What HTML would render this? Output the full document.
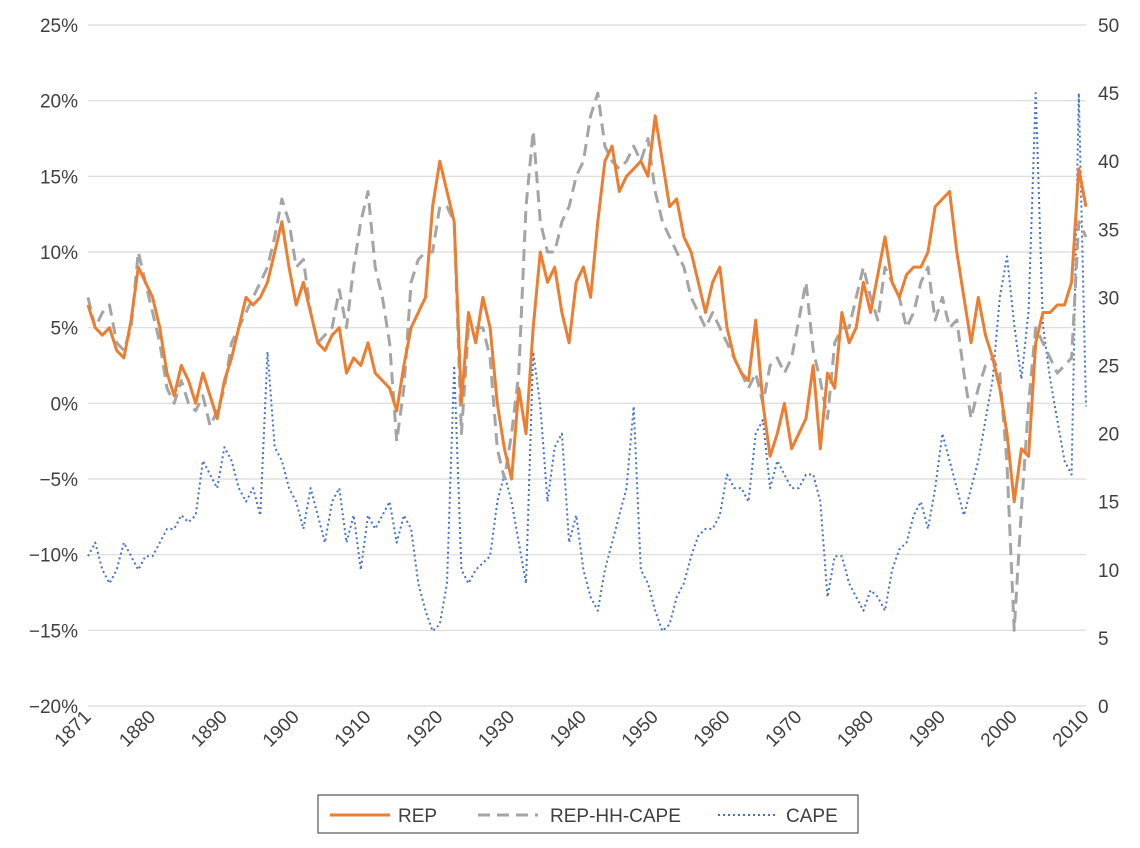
<!DOCTYPE html>
<html><head><meta charset="utf-8"><style>
body{margin:0;background:#fff;}
svg text{font-family:"Liberation Sans",sans-serif;fill:#404040;}
</style></head><body>
<svg id="chart" width="1140" height="843" viewBox="0 0 1140 843" xmlns="http://www.w3.org/2000/svg">
<g id="grid"></g>
<g id="yl"></g>
<g id="yr"></g>
<g id="xl"></g>
<g id="series"></g>
<g>
<rect x="318" y="795" width="540" height="38" fill="#fff" stroke="#555" stroke-width="1.2"/>
<line x1="330" y1="815" x2="390" y2="815" stroke="#ED7D31" stroke-width="3"/>
<text x="398" y="822" font-size="19">REP</text>
<line x1="478" y1="815" x2="538" y2="815" stroke="#A5A5A5" stroke-width="3" stroke-dasharray="12,7"/>
<text x="550" y="822" font-size="19">REP-HH-CAPE</text>
<line x1="718" y1="815" x2="775" y2="815" stroke="#4472C4" stroke-width="2" stroke-dasharray="2,3"/>
<text x="786" y="822" font-size="19">CAPE</text>
</g>
</svg>
<script>
const years=[];for(let y=1871;y<=2010;y++)years.push(y);
const repValues=[6.5,5,4.5,5,3.5,3,5.5,9,8,7,5,2,0.5,2.5,1.5,0,2,0.5,-1,1.5,3,5,7,6.5,7,8,10,12,9,6.5,8,6,4,3.5,4.5,5,2,3,2.5,4,2,1.5,1,-0.5,2.5,5,6,7,13,16,14,12,0,6,4,7,5,0,-3,-5,1,-2,5,10,8,9,6,4,8,9,7,12,16,17,14,15,15.5,16,15,19,16,13,13.5,11,10,8,6,8,9,5,3,2,1.5,5.5,0,-3.5,-2,0,-3,-2,-1,2.5,-3,2,1,6,4,5,8,6,8.5,11,8,7,8.5,9,9,10,13,13.5,14,10,7,4,7,4.5,3,1,-2,-6.5,-3,-3.5,4,6,6,6.5,6.5,8,15.5,13];
const hhValues=[7,5,6,6.5,4,3.5,5,10,8,6,4,1,0,1.5,0,-0.5,0.5,-1.5,-0.5,1,4,5,6,7,8,9,11,13.5,12,9,9.5,6,4,4.5,5,7.5,5,9,12,14,9,7,4,-2.5,1,8,9.5,10,10,13,13,12,-2,5,5,5,3,-3,-5,-2,2,13,18,12,10,10,12,13,15,16,19,20.5,17,16,15.5,16,17,16,17.5,14,12,11,10,9,7,6,5,6,5,4,3,2,1,2,0,2.5,3,2,3,5.5,8,3.5,1.5,-1,4,5,5,7,9,7,5.5,9,8,7,5,6,8,9,5.5,7,5,5.5,2,-1,1,2.5,3,2,-4,-15,-7,0,5,4,3,2,2.5,3,12,11];
const capeValues=[11,12,10,9,10,12,11,10,11,11,12,13,13,14,13.5,14,18,17,16,19,18,16,15,16,14,26,19,18,16,15,13,16,14,12,15,16,12,14,10,14,13,14,15,12,14,13,9,7,5.5,6,9,25,10,9,10,10.5,11,15,17,15,12,9,26,22,15,19,20,12,14,10,8,7,10,12,14,16,22,10,9,7,5.5,6,8,9,11,12.5,13,13,14,17,16,16,15,20,21,16,18,17,16,16,17,17,15,8,11,11,9,8,7,8.5,8,7,10,11.5,12,14,15,13,16,20,18,16,14,16,18,21,24,30,33,28,24,29,45,28,24,21,18,17,45,22];
const leftTicks=[25,20,15,10,5,0,-5,-10,-15,-20];
const rightTicks=[50,45,40,35,30,25,20,15,10,5,0];
const xTicks=[1871,1880,1890,1900,1910,1920,1930,1940,1950,1960,1970,1980,1990,2000,2010];
const X0=88,X1=1086,YT=25,YB=706;
const xs=y=>X0+(y-1871)/(2010-1871)*(X1-X0);
const yL=v=>YB-(v+20)/45*(YB-YT);
const yR=v=>YB-v/50*(YB-YT);
const NS='http://www.w3.org/2000/svg';
function mk(tag,attrs,parent){const e=document.createElementNS(NS,tag);for(const k in attrs)e.setAttribute(k,attrs[k]);parent.appendChild(e);return e;}
const grid=document.getElementById('grid'),yl=document.getElementById('yl'),yr=document.getElementById('yr'),xl=document.getElementById('xl'),ser=document.getElementById('series');
leftTicks.forEach(t=>{
 const l=mk('line',{x1:X0,x2:X1,y1:yL(t),y2:yL(t),stroke:'#d9d9d9','stroke-width':1.2},grid);
 
 
 const tx=mk('text',{x:78,y:yL(t)+7,'font-size':19,'text-anchor':'end'},yl);
 tx.textContent=(t<0?'\u2212'+(-t):t)+'%';
 
 
});
rightTicks.forEach(t=>{
 const tx=mk('text',{x:1098,y:yR(t)+7,'font-size':19},yr);
 tx.textContent=t;
 
 
});
xTicks.forEach(t=>{
 const x=xs(t)+4,y=718;
 const tx=mk('text',{x:x,y:y,'font-size':19,'text-anchor':'end',transform:`rotate(-45 ${x} ${y})`},xl);
 tx.textContent=t;
 
 
});
function path(vals,fy,attrs,name){
 const d=vals.map((v,i)=>(i?'L':'M')+xs(years[i]).toFixed(1)+','+fy(v).toFixed(1)).join(' ');
 const p=mk('path',Object.assign({d:d,fill:'none','stroke-linejoin':'round'},attrs),ser);
 
 
}
path(capeValues,yR,{stroke:'#4472C4','stroke-width':2,'stroke-dasharray':'2,3'},'cape-line');
path(hhValues,yL,{stroke:'#A5A5A5','stroke-width':3,'stroke-dasharray':'12,7'},'rep-hh-cape-line');
path(repValues,yL,{stroke:'#ED7D31','stroke-width':3},'rep-line');
</script>
</body></html>
